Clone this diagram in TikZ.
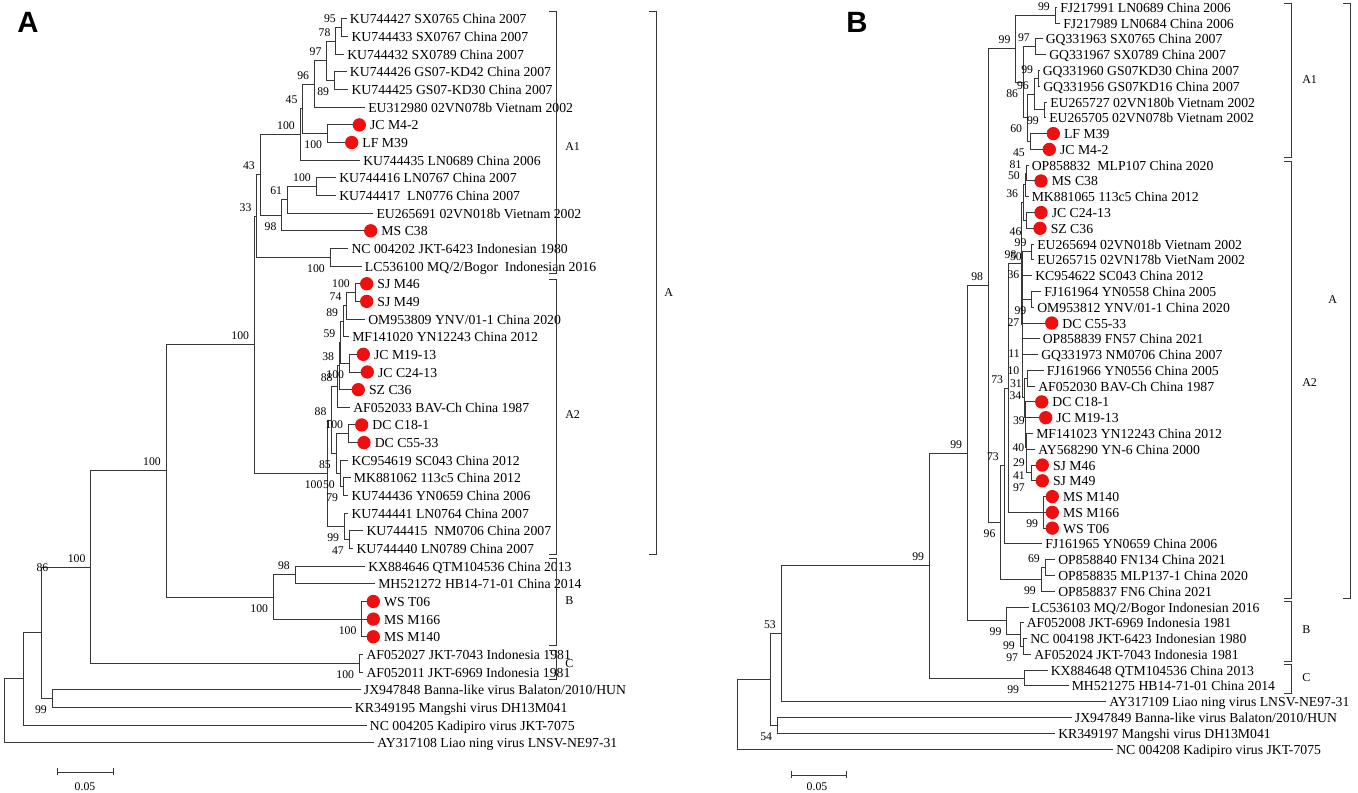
\documentclass[tikz,border=0pt]{standalone}
\usepackage{fontspec}
\setmainfont{Liberation Serif}
\newfontfamily\panelfont{Liberation Sans}
\usetikzlibrary{calc}
\definecolor{dotred}{RGB}{238,16,16}
\definecolor{lncol}{RGB}{55,55,55}
\newcommand\tipfont{\fontsize{10.3}{12}\selectfont}
\newcommand\bsfont{\fontsize{8.8}{10}\selectfont}
\newcommand\cladefont{\fontsize{9}{11}\selectfont}
\newcommand\rowA[1]{19+17.65*(#1-1)}
\newcommand\rowB[1]{7.4+15.78*(#1-1)}
\newcommand\inode[4]{\path let \p1=(#3), \p2=(#4) in coordinate (#1) at ({#2*0.75pt},{0.5*(\y1)+0.5*(\y2)});}
\newcommand\leaf[4]{\coordinate (#1) at (#2,{#3}); \node[tiplab] (#1t) at ([shift={(3,5)}]#1) {#4};}
\newcommand\leafd[4]{\coordinate (#1) at (#2,{#3}); \node[reddot] (#1d) at ([shift={(6.5,0)}]#1) {}; \node[tiplab] (#1t) at ([shift={(17,5)}]#1) {#4};}
\newcommand\edges[2]{\foreach \ch in {#2}{\draw[br] (#1) |- (\ch);}}
\newcommand\bsup[2]{\node[bs] (#1u) at ([shift={(-5,-5)}]#1) {#2};}
\newcommand\bslo[2]{\node[bs] (#1l) at ([shift={(-5,15)}]#1) {#2};}
\tikzset{
  tiplab/.style={anchor=base west, inner sep=0, font=\tipfont, text=black},
  reddot/.style={circle, fill=dotred, draw=none, inner sep=0, minimum size=10pt},
  br/.style={draw=lncol, line width=0.75pt},
  bs/.style={anchor=base east, inner sep=0, font=\bsfont},
  brk/.style={draw=lncol, line width=0.75pt},
  cl/.style={anchor=west, inner sep=0, font=\cladefont},
  sbl/.style={anchor=center, inner sep=0, font=\bsfont},
  plet/.style={anchor=base west, inner sep=0, font=\panelfont\bfseries\fontsize{22}{24}\selectfont}
}
\begin{document}
\begin{tikzpicture}[x=0.75pt,y=-0.75pt]
\useasboundingbox (0,0) rectangle (1358,792);
% ================= PANEL A =================
\node[plet] (pA) at (17,33) {A};
\leaf{tA1}{346.7}{\rowA{1}}{KU744427 SX0765 China 2007}
\leaf{tA2}{348.3}{\rowA{2}}{KU744433 SX0767 China 2007}
\leaf{tA3}{344}{\rowA{3}}{KU744432 SX0789 China 2007}
\leaf{tA4}{346.7}{\rowA{4}}{KU744426 GS07-KD42 China 2007}
\leaf{tA5}{348.3}{\rowA{5}}{KU744425 GS07-KD30 China 2007}
\leaf{tA6}{365}{\rowA{6}}{EU312980 02VN078b Vietnam 2002}
\leafd{tA7}{352.8}{\rowA{7}}{JC M4-2}
\leafd{tA8}{345.2}{\rowA{8}}{LF M39}
\leaf{tA9}{360}{\rowA{9}}{KU744435 LN0689 China 2006}
\leaf{tA10}{336}{\rowA{10}}{KU744416 LN0767 China 2007}
\leaf{tA11}{336}{\rowA{11}}{KU744417\ \ LN0776 China 2007}
\leaf{tA12}{373.3}{\rowA{12}}{EU265691 02VN018b Vietnam 2002}
\leafd{tA13}{364.2}{\rowA{13}}{MS C38}
\leaf{tA14}{348.3}{\rowA{14}}{NC 004202 JKT-6423 Indonesian 1980}
\leaf{tA15}{361.7}{\rowA{15}}{LC536100 MQ/2/Bogor\ \ Indonesian 2016}
\leafd{tA16}{360.2}{\rowA{16}}{SJ M46}
\leafd{tA17}{360.2}{\rowA{17}}{SJ M49}
\leaf{tA18}{365}{\rowA{18}}{OM953809 YNV/01-1 China 2020}
\leaf{tA19}{349}{\rowA{19}}{MF141020 YN12243 China 2012}
\leafd{tA20}{356.8}{\rowA{20}}{JC M19-13}
\leafd{tA21}{360.8}{\rowA{21}}{JC C24-13}
\leafd{tA22}{351.8}{\rowA{22}}{SZ C36}
\leaf{tA23}{350}{\rowA{23}}{AF052033 BAV-Ch China 1987}
\leafd{tA24}{355.2}{\rowA{24}}{DC C18-1}
\leafd{tA25}{357.5}{\rowA{25}}{DC C55-33}
\leaf{tA26}{348.3}{\rowA{26}}{KC954619 SC043 China 2012}
\leaf{tA27}{350.7}{\rowA{27}}{MK881062 113c5 China 2012}
\leaf{tA28}{348.3}{\rowA{28}}{KU744436 YN0659 China 2006}
\leaf{tA29}{348.3}{\rowA{29}}{KU744441 LN0764 China 2007}
\leaf{tA30}{363.3}{\rowA{30}}{KU744415\ \ NM0706 China 2007}
\leaf{tA31}{353.3}{\rowA{31}}{KU744440 LN0789 China 2007}
\leaf{tA32}{365}{\rowA{32}}{KX884646 QTM104536 China 2013}
\leaf{tA33}{375}{\rowA{33}}{MH521272 HB14-71-01 China 2014}
\leafd{tA34}{366.8}{\rowA{34}}{WS T06}
\leafd{tA35}{366.8}{\rowA{35}}{MS M166}
\leafd{tA36}{366.8}{\rowA{36}}{MS M140}
\leaf{tA37}{363.3}{\rowA{37}}{AF052027 JKT-7043 Indonesia 1981}
\leaf{tA38}{363.3}{\rowA{38}}{AF052011 JKT-6969 Indonesia 1981}
\leaf{tA39}{360.7}{\rowA{39}}{JX947848 Banna-like virus Balaton/2010/HUN}
\leaf{tA40}{351.7}{\rowA{40}}{KR349195 Mangshi virus DH13M041}
\leaf{tA41}{366.7}{\rowA{41}}{NC 004205 Kadipiro virus JKT-7075}
\leaf{tA42}{374}{\rowA{42}}{AY317108 Liao ning virus LNSV-NE97-31}
% internal nodes A
\inode{a95}{341}{tA1}{tA2}
\inode{a78}{335.7}{a95}{tA3}
\inode{a89}{334.3}{tA4}{tA5}
\inode{a97}{326.7}{a78}{a89}
\inode{a96}{314.3}{a97}{tA6}
\inode{aJL}{327.3}{tA7}{tA8}
\inode{a45}{302.7}{a96}{aJL}
\inode{aT}{300}{a45}{tA9}
\inode{aLN}{316}{tA10}{tA11}
\inode{a61}{287.3}{aLN}{tA12}
\inode{a98}{281.7}{a61}{tA13}
\inode{a43}{260}{aT}{a98}
\inode{aNC}{330}{tA14}{tA15}
\inode{a33}{256.7}{a43}{aNC}
\inode{p1}{355}{tA16}{tA17}
\inode{p2}{346.7}{p1}{tA18}
\inode{p3}{343.3}{p2}{tA19}
\inode{p4}{349.3}{tA20}{tA21}
\inode{p5}{340.5}{p3}{p4}
\inode{p6}{339.3}{p5}{tA22}
\inode{p7}{337.8}{p6}{tA23}
\inode{p8}{348.3}{tA24}{tA25}
\inode{p10}{343.3}{tA27}{tA28}
\inode{pv}{340}{tA26}{p10}
\inode{ps}{336}{p8}{pv}
\inode{pr}{331.7}{p7}{ps}
\inode{q1}{349}{tA30}{tA31}
\inode{q2}{344.3}{tA29}{q1}
\inode{A2r}{327.7}{pr}{q2}
\inode{aA}{254.3}{a33}{A2r}
\inode{aKX}{295}{tA32}{tA33}
\inode{aWS}{361.7}{tA34}{tA36}
\inode{aB}{273.3}{aKX}{aWS}
\inode{aBA}{166}{aA}{aB}
\inode{aC}{359.3}{tA37}{tA38}
\inode{aIn}{90.7}{aBA}{aC}
\inode{aJX}{52}{tA39}{tA40}
\inode{aY}{41.7}{aIn}{aJX}
\inode{aX}{23}{aY}{tA41}
\inode{aR}{4}{aX}{tA42}
% edges A
\edges{a95}{tA1,tA2}
\edges{a78}{a95,tA3}
\edges{a89}{tA4,tA5}
\edges{a97}{a78,a89}
\edges{a96}{a97,tA6}
\edges{aJL}{tA7,tA8}
\edges{a45}{a96,aJL}
\edges{aT}{a45,tA9}
\edges{aLN}{tA10,tA11}
\edges{a61}{aLN,tA12}
\edges{a98}{a61,tA13}
\edges{a43}{aT,a98}
\edges{aNC}{tA14,tA15}
\edges{a33}{a43,aNC}
\edges{p1}{tA16,tA17}
\edges{p2}{p1,tA18}
\edges{p3}{p2,tA19}
\edges{p4}{tA20,tA21}
\edges{p5}{p3,p4}
\edges{p6}{p5,tA22}
\edges{p7}{p6,tA23}
\edges{p8}{tA24,tA25}
\edges{p10}{tA27,tA28}
\edges{pv}{tA26,p10}
\edges{ps}{p8,pv}
\edges{pr}{p7,ps}
\edges{q1}{tA30,tA31}
\edges{q2}{tA29,q1}
\edges{A2r}{pr,q2}
\edges{aA}{a33,A2r}
\edges{aKX}{tA32,tA33}
\edges{aWS}{tA34,tA35,tA36}
\edges{aB}{aKX,aWS}
\edges{aBA}{aA,aB}
\edges{aC}{tA37,tA38}
\edges{aIn}{aBA,aC}
\edges{aJX}{tA39,tA40}
\edges{aY}{aIn,aJX}
\edges{aX}{aY,tA41}
\edges{aR}{aX,tA42}
% bootstrap A
\bsup{a95}{95} \bsup{a78}{78} \bsup{a97}{97} \bslo{a89}{89} \bsup{a96}{96}
\bsup{a45}{45} \bslo{aJL}{100} \bsup{aT}{100} \bsup{aLN}{100} \bsup{a61}{61}
\bslo{a98}{98} \bsup{a43}{43} \bslo{aNC}{100} \bsup{a33}{33} \bsup{aA}{100}
\bsup{p1}{100} \bsup{p2}{74} \bsup{p3}{89} \bsup{p5}{59} \bsup{p6}{38}
\bslo{p4}{100} \bsup{p7}{88} \bsup{pr}{88} \bsup{p8}{100} \bslo{ps}{85}
\bslo{pv}{50} \bslo{p10}{79} \bslo{A2r}{100} \bslo{q2}{99} \bslo{q1}{47}
\bsup{aKX}{98} \bslo{aWS}{100} \bslo{aB}{100} \bsup{aBA}{100} \bslo{aC}{100}
\bsup{aIn}{100} \bslo{aJX}{99}
\node[bs] (l86) at (48.5,571) {86};
% brackets A
\draw[brk] (549,12) -- (556,12) -- (556,273) -- (549,273);
\draw[brk] (549,279) -- (556,279) -- (556,554) -- (549,554);
\draw[brk] (649,12) -- (656,12) -- (656,554) -- (649,554);
\draw[brk] (549,558) -- (556,558) -- (556,645) -- (549,645);
\draw[brk] (549,650) -- (556,650) -- (556,679) -- (549,679);
\node[cl] (cA1) at (565,147) {A1};
\node[cl] (cA2) at (565,415) {A2};
\node[cl] (cAA) at (664,293) {A};
\node[cl] (cAB) at (565,601) {B};
\node[cl] (cAC) at (565,664) {C};
% scale A
\coordinate (sa1) at (57,772); \coordinate (sa2) at (113,772);
\draw[brk] (sa1) -- (sa2);
\draw[brk] ([shift={(0,-4)}]sa1) -- ([shift={(0,3)}]sa1);
\draw[brk] ([shift={(0,-4)}]sa2) -- ([shift={(0,3)}]sa2);
\node[sbl] (sla) at (85,787) {0.05};
% ================= PANEL B =================
\node[plet] (pB) at (846,33) {B};
\leaf{tB1}{1057}{\rowB{1}}{FJ217991 LN0689 China 2006}
\leaf{tB2}{1060}{\rowB{2}}{FJ217989 LN0684 China 2006}
\leaf{tB3}{1042.5}{\rowB{3}}{GQ331963 SX0765 China 2007}
\leaf{tB4}{1046}{\rowB{4}}{GQ331967 SX0789 China 2007}
\leaf{tB5}{1039.5}{\rowB{5}}{GQ331960 GS07KD30 China 2007}
\leaf{tB6}{1040}{\rowB{6}}{GQ331956 GS07KD16 China 2007}
\leaf{tB7}{1047}{\rowB{7}}{EU265727 02VN180b Vietnam 2002}
\leaf{tB8}{1046}{\rowB{8}}{EU265705 02VN078b Vietnam 2002}
\leafd{tB9}{1046.8}{\rowB{9}}{LF M39}
\leafd{tB10}{1042.8}{\rowB{10}}{JC M4-2}
\leaf{tB11}{1028.5}{\rowB{11}}{OP858832\ \ MLP107 China 2020}
\leafd{tB12}{1034.5}{\rowB{12}}{MS C38}
\leaf{tB13}{1028.5}{\rowB{13}}{MK881065 113c5 China 2012}
\leafd{tB14}{1034.5}{\rowB{14}}{JC C24-13}
\leafd{tB15}{1033.5}{\rowB{15}}{SZ C36}
\leaf{tB16}{1034}{\rowB{16}}{EU265694 02VN018b Vietnam 2002}
\leaf{tB17}{1034}{\rowB{17}}{EU265715 02VN178b VietNam 2002}
\leaf{tB18}{1032}{\rowB{18}}{KC954622 SC043 China 2012}
\leaf{tB19}{1041}{\rowB{19}}{FJ161964 YN0558 China 2005}
\leaf{tB20}{1034}{\rowB{20}}{OM953812 YNV/01-1 China 2020}
\leafd{tB21}{1045.2}{\rowB{21}}{DC C55-33}
\leaf{tB22}{1039.5}{\rowB{22}}{OP858839 FN57 China 2021}
\leaf{tB23}{1038}{\rowB{23}}{GQ331973 NM0706 China 2007}
\leaf{tB24}{1043.5}{\rowB{24}}{FJ161966 YN0556 China 2005}
\leaf{tB25}{1035}{\rowB{25}}{AF052030 BAV-Ch China 1987}
\leafd{tB26}{1035.2}{\rowB{26}}{DC C18-1}
\leafd{tB27}{1039.2}{\rowB{27}}{JC M19-13}
\leaf{tB28}{1033}{\rowB{28}}{MF141023 YN12243 China 2012}
\leaf{tB29}{1035}{\rowB{29}}{AY568290 YN-6 China 2000}
\leafd{tB30}{1035.8}{\rowB{30}}{SJ M46}
\leafd{tB31}{1035.8}{\rowB{31}}{SJ M49}
\leafd{tB32}{1045.8}{\rowB{32}}{MS M140}
\leafd{tB33}{1045.8}{\rowB{33}}{MS M166}
\leafd{tB34}{1045.8}{\rowB{34}}{WS T06}
\leaf{tB35}{1042}{\rowB{35}}{FJ161965 YN0659 China 2006}
\leaf{tB36}{1055}{\rowB{36}}{OP858840 FN134 China 2021}
\leaf{tB37}{1055}{\rowB{37}}{OP858835 MLP137-1 China 2020}
\leaf{tB38}{1055}{\rowB{38}}{OP858837 FN6 China 2021}
\leaf{tB39}{1028.5}{\rowB{39}}{LC536103 MQ/2/Bogor Indonesian 2016}
\leaf{tB40}{1023.5}{\rowB{40}}{AF052008 JKT-6969 Indonesia 1981}
\leaf{tB41}{1027}{\rowB{41}}{NC 004198 JKT-6423 Indonesian 1980}
\leaf{tB42}{1031}{\rowB{42}}{AF052024 JKT-7043 Indonesia 1981}
\leaf{tB43}{1047.5}{\rowB{43}}{KX884648 QTM104536 China 2013}
\leaf{tB44}{1068.5}{\rowB{44}}{MH521275 HB14-71-01 China 2014}
\leaf{tB45}{1106}{\rowB{45}}{AY317109 Liao ning virus LNSV-NE97-31}
\leaf{tB46}{1071.7}{\rowB{46}}{JX947849 Banna-like virus Balaton/2010/HUN}
\leaf{tB47}{1055}{\rowB{47}}{KR349197 Mangshi virus DH13M041}
\leaf{tB48}{1113}{\rowB{48}}{NC 004208 Kadipiro virus JKT-7075}
% internal nodes B
\inode{b1}{1055}{tB1}{tB2}
\inode{bGQa}{1035}{tB3}{tB4}
\inode{bGQb}{1038.3}{tB5}{tB6}
\inode{bEUa}{1044}{tB7}{tB8}
\inode{bc}{1034}{bGQb}{bEUa}
\inode{bLJ}{1030}{tB9}{tB10}
\inode{bd}{1027.3}{bc}{bLJ}
\inode{b3}{1023.3}{bGQa}{bd}
\inode{b2}{1015.7}{b1}{b3}
\inode{be}{1026.7}{tB11}{tB12}
\inode{bf}{1025}{be}{tB13}
\inode{bJS}{1026.7}{tB14}{tB15}
\inode{bg}{1023.3}{bf}{bJS}
\inode{bEUb}{1031.7}{tB16}{tB17}
\inode{bFO}{1031.5}{tB19}{tB20}
\inode{bn9}{1027}{tB24}{tB25}
\inode{bSJ}{1031.7}{tB30}{tB31}
\inode{bn13}{1026.5}{tB29}{bSJ}
\inode{bn12}{1026}{tB28}{bn13}
\inode{bn11}{1025.5}{tB27}{bn12}
\inode{bn10}{1025}{tB26}{bn11}
\inode{bn8}{1024.5}{bn9}{bn10}
\inode{bn2}{1022.3}{bEUb}{bn8}
\inode{bm}{1021.7}{bg}{bn2}
\inode{btr}{1043.3}{tB32}{tB34}
\inode{bh}{1008.3}{bm}{btr}
\inode{bk}{1004}{bh}{tB35}
\inode{bOPa}{1045}{tB36}{tB37}
\inode{bOPb}{1041}{bOPa}{tB38}
\inode{bA2}{1000.7}{bk}{bOPb}
\inode{bAn}{988.3}{b2}{bA2}
\inode{bBp}{1023.3}{tB41}{tB42}
\inode{bBi}{1020}{tB40}{bBp}
\inode{bBc}{1006.7}{tB39}{bBi}
\inode{bN99}{967.3}{bAn}{bBc}
\inode{bCn}{1024.3}{tB43}{tB44}
\inode{bN99b}{929.3}{bN99}{bCn}
\inode{bN53}{781}{bN99b}{tB45}
\inode{bJK}{777.3}{tB46}{tB47}
\inode{bN54}{770.7}{bN53}{bJK}
\inode{bR}{737.3}{bN54}{tB48}
% edges B
\edges{b1}{tB1,tB2}
\edges{bGQa}{tB3,tB4}
\edges{bGQb}{tB5,tB6}
\edges{bEUa}{tB7,tB8}
\edges{bc}{bGQb,bEUa}
\edges{bLJ}{tB9,tB10}
\edges{bd}{bc,bLJ}
\edges{b3}{bGQa,bd}
\edges{b2}{b1,b3}
\edges{be}{tB11,tB12}
\edges{bf}{be,tB13}
\edges{bJS}{tB14,tB15}
\edges{bg}{bf,bJS}
\edges{bEUb}{tB16,tB17}
\edges{bFO}{tB19,tB20}
\edges{bn9}{tB24,tB25}
\edges{bSJ}{tB30,tB31}
\edges{bn13}{tB29,bSJ}
\edges{bn12}{tB28,bn13}
\edges{bn11}{tB27,bn12}
\edges{bn10}{tB26,bn11}
\edges{bn8}{bn9,bn10}
\edges{bn2}{bEUb,tB18,bFO,tB21,tB22,tB23,bn8}
\edges{bm}{bg,bn2}
\edges{btr}{tB32,tB33,tB34}
\edges{bh}{bm,btr}
\edges{bk}{bh,tB35}
\edges{bOPa}{tB36,tB37}
\edges{bOPb}{bOPa,tB38}
\edges{bA2}{bk,bOPb}
\edges{bAn}{b2,bA2}
\edges{bBp}{tB41,tB42}
\edges{bBi}{tB40,bBp}
\edges{bBc}{tB39,bBi}
\edges{bN99}{bAn,bBc}
\edges{bCn}{tB43,tB44}
\edges{bN99b}{bN99,bCn}
\edges{bN53}{bN99b,tB45}
\edges{bJK}{tB46,tB47}
\edges{bN54}{bN53,bJK}
\edges{bR}{bN54,tB48}
% bootstrap B
\bsup{b1}{99} \bsup{b2}{99} \bsup{bGQa}{97} \bslo{b3}{86} \bsup{bGQb}{99}
\bsup{bc}{96} \bslo{bEUa}{99} \bslo{bd}{60} \bslo{bLJ}{45} \bsup{be}{81}
\bsup{bf}{50} \bsup{bg}{36} \bslo{bJS}{46} \bsup{bm}{98} \bsup{bEUb}{99}
\bslo{bFO}{99} \bsup{bh}{73} \bsup{bk}{73} \bslo{bA2}{96} \bsup{bAn}{98}
\bslo{btr}{99} \bsup{bOPa}{69} \bslo{bOPb}{99} \bsup{bN99}{99} \bslo{bBc}{99}
\bslo{bBi}{99} \bslo{bBp}{97} \bslo{bCn}{99} \bsup{bN99b}{99} \bsup{bN53}{53}
\bslo{bJK}{54}
\node[bs] (lb50) at (1022,260) {50};
\node[bs] (lb36) at (1019.5,278.3) {36};
\node[bs] (lb27) at (1019.5,326) {27};
\node[bs] (lb11) at (1020,357) {11};
\node[bs] (lb10) at (1019.5,374) {10};
\node[bs] (lb31) at (1022,387) {31};
\node[bs] (lb34) at (1021.5,399) {34};
\node[bs] (lb39) at (1025,424) {39};
\node[bs] (lb40) at (1024.5,451) {40};
\node[bs] (lb29) at (1025,466) {29};
\node[bs] (lb41) at (1025,479) {41};
\node[bs] (lb97) at (1025,491) {97};
% brackets B
\draw[brk] (1284,4) -- (1291,4) -- (1291,157) -- (1284,157);
\draw[brk] (1284,161) -- (1291,161) -- (1291,598) -- (1284,598);
\draw[brk] (1343,4) -- (1350,4) -- (1350,598) -- (1343,598);
\draw[brk] (1284,601) -- (1291,601) -- (1291,661) -- (1284,661);
\draw[brk] (1284,664) -- (1291,664) -- (1291,693) -- (1284,693);
\node[cl] (cB1) at (1302,80) {A1};
\node[cl] (cB2) at (1302,383) {A2};
\node[cl] (cBA) at (1328,300) {A};
\node[cl] (cBB) at (1302,630) {B};
\node[cl] (cBC) at (1302,678) {C};
% scale B
\coordinate (sb1) at (791,775); \coordinate (sb2) at (846,775);
\draw[brk] (sb1) -- (sb2);
\draw[brk] ([shift={(0,-4)}]sb1) -- ([shift={(0,3)}]sb1);
\draw[brk] ([shift={(0,-4)}]sb2) -- ([shift={(0,3)}]sb2);
\node[sbl] (slb) at (817,787) {0.05};
\end{tikzpicture}
\end{document}
